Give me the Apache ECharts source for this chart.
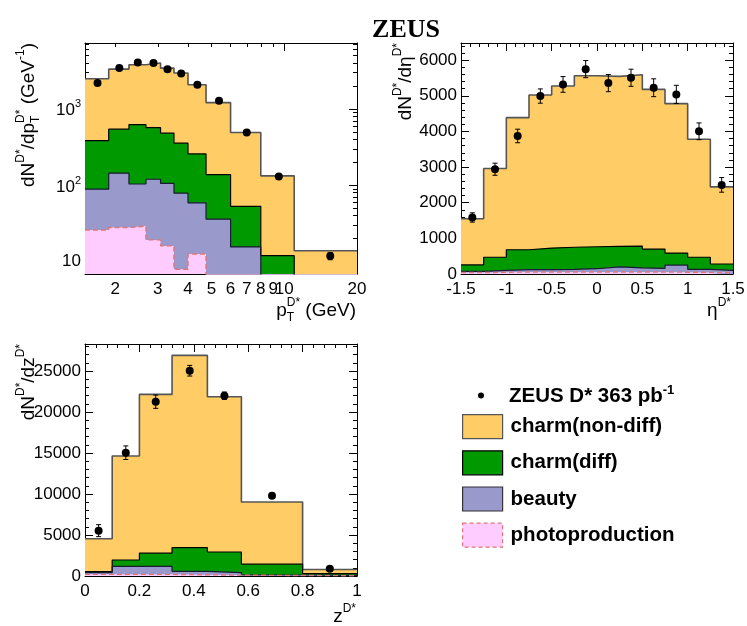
<!DOCTYPE html>
<html><head><meta charset="utf-8">
<script src="https://cdn.jsdelivr.net/npm/echarts@6/dist/echarts.min.js"></script>
<style>html,body{margin:0;padding:0;background:#fff}#c{width:747px;height:626px}</style>
</head><body><div id="c"></div>
<script>
// ---------------- DATA ----------------
// pT panel (bin edges, data points, stacked MC tops)
const ptEdges   = [1.5, 1.88, 2.28, 2.68, 3.08, 3.5, 4, 4.75, 6, 8, 11, 20];
const ptCentres = [1.69, 2.08, 2.48, 2.88, 3.29, 3.75, 4.375, 5.375, 7, 9.5, 15.5];
const ptData    = [2180, 3430, 4060, 3980, 3320, 2910, 2070, 1280, 490, 130, 11.9];
const ptErr     = [150, 170, 190, 180, 160, 140, 100, 60, 25, 8, 1.3];
const ptNonDiff = [2480, 3320, 3790, 3990, 3420, 2950, 2070, 1210, 491, 133, 13.9];
const ptDiff    = [385, 543, 625, 570, 482, 356, 258, 138, 53, 12, 4];
const ptBeauty  = [89, 144, 104, 120, 106, 79, 59, 36, 15.6, 5, 1.5];
const ptPhp     = [26, 28, 29.3, 19.3, 16.1, 7.95, 12.6, 5, 2, 1, 0.3];

// eta panel
const etaEdges   = [-1.5, -1.25, -1, -0.75, -0.5, -0.25, 0, 0.25, 0.5, 0.75, 1, 1.25, 1.5];
const etaCentres = [-1.375, -1.125, -0.875, -0.625, -0.375, -0.125, 0.125, 0.375, 0.625, 0.875, 1.125, 1.375];
const etaData    = [1586, 2939, 3872, 4992, 5318, 5747, 5355, 5505, 5225, 5038, 4003, 2500];
const etaErr     = [130, 170, 190, 200, 220, 240, 240, 240, 250, 255, 235, 205];
const etaNonDiff = [1549, 2958, 4386, 5020, 5272, 5561, 5543, 5589, 5179, 4778, 3780, 2445];
const etaDiff    = [255, 470, 680, 728, 750, 765, 775, 784, 700, 588, 470, 280];
const etaBeauty  = [73, 100, 120, 125, 130, 148, 200, 170, 160, 250, 130, 100];
const etaPhp     = [40, 50, 55, 55, 55, 55, 55, 55, 55, 50, 45, 40];

// z panel
const zEdges   = [0, 0.1, 0.2, 0.32, 0.45, 0.575, 0.8, 1.0];
const zCentres = [0.05, 0.15, 0.26, 0.385, 0.5125, 0.6875, 0.9];
const zData    = [5530, 15040, 21260, 25040, 21990, 9800, 890];
const zErr     = [730, 830, 810, 650, 450, 200, 150];
const zNonDiff = [4553, 14634, 22154, 26910, 21870, 9024, 800];
const zDiff    = [550, 1950, 2780, 3450, 2925, 1440, 300];
const zBeauty  = [400, 1180, 1180, 570, 400, 120, 80];
const zPhp     = [200, 200, 200, 150, 100, 60, 30];

// tick labels
const ptXLabels  = [2, 3, 4, 5, 6, 7, 8, 9, 10, 20];
const ptYLabels  = [10, 100, 1000];
const etaXLabels = [-1.5, -1, -0.5, 0, 0.5, 1, 1.5];
const etaYLabels = [0, 1000, 2000, 3000, 4000, 5000, 6000];
const zXLabels   = [0, 0.2, 0.4, 0.6, 0.8, 1];
const zYLabels   = [0, 5000, 10000, 15000, 20000, 25000];

const DATA_NAME = 'ZEUS D* 363 pb-1';
const NAMES = ['charm(non-diff)', 'charm(diff)', 'beauty', 'photoproduction'];
// ---------------------------------------

const FONT = '"Liberation Sans", Arial, Helvetica, sans-serif';
const COL = {
  nondiff: {fill: '#ffcc66', line: '#555555', w: 1.6},
  diff:    {fill: '#009900', line: '#000000', w: 1.2},
  beauty:  {fill: '#9999cc', line: '#1a1a33', w: 1.2},
  php:     {fill: '#ffccff', line: '#dd7777', w: 1.4}
};

function range(a, b, s) { const r = []; for (let v = a; v <= b + 1e-9; v += s) r.push(+v.toFixed(6)); return r; }
function logMinor(lo, hi) {
  const r = [];
  for (let d = 1; d <= 10000; d *= 10) for (let m = 2; m <= 9; m++) { const v = m * d; if (v >= lo && v <= hi) r.push(v); }
  return r;
}

function axisSet(dim, gi, base, majorTicks, minorTicks, labelVals, fmt, rich, majorLen) {
  const pos = dim === 'x' ? ['bottom', 'top'] : ['left', 'right'];
  const out = [];
  pos.forEach((p, k) => {
    const common = Object.assign({
      gridIndex: gi, position: p, offset: 0,
      splitLine: {show: false}, minorSplitLine: {show: false}, minorTick: {show: false},
      axisPointer: {show: false}, silent: true
    }, base);
    out.push(Object.assign({}, common, {
      axisLine: {show: true, onZero: false, lineStyle: {color: '#000', width: 1}},
      axisTick: {show: true, inside: true, length: majorLen || 8, customValues: majorTicks, lineStyle: {color: '#000', width: 1}},
      axisLabel: k === 0 ? {
        show: true, customValues: labelVals, formatter: fmt, color: '#000', fontSize: 17,
        fontFamily: FONT, margin: dim === 'x' ? 7 : 4, hideOverlap: false, rich: rich
      } : {show: false}
    }));
    out.push(Object.assign({}, common, {
      axisLine: {show: false, onZero: false},
      axisTick: {show: true, inside: true, length: 4, customValues: minorTicks, lineStyle: {color: '#000', width: 1}},
      axisLabel: {show: false}
    }));
  });
  return out;
}

const numFmt = v => String(parseFloat((+v).toFixed(3)));
const richSup = {
  b: {fontSize: 17, fontFamily: FONT, color: '#000', verticalAlign: 'bottom'},
  sup: {fontSize: 11, fontFamily: FONT, color: '#000', verticalAlign: 'bottom', padding: [0, 0, 9, 0]}
};
const logFmt = v => { const e = Math.round(Math.log10(v)); return e === 1 ? '{b|10}' : '{b|10}{sup|' + e + '}'; };

const xAxes = [], yAxes = [];
// panel 0: pT (log-log)
xAxes.push(...axisSet('x', 0, {type: 'log', logBase: 10, min: 1.5, max: 20},
  [10], [2, 3, 4, 5, 6, 7, 8, 9, 20], ptXLabels, v => String(Math.round(v)), null, 8));
yAxes.push(...axisSet('y', 0, {type: 'log', logBase: 10, min: 6.9, max: 7300},
  ptYLabels, logMinor(6.9, 7300), ptYLabels, logFmt, richSup, 8));
// panel 1: eta
xAxes.push(...axisSet('x', 1, {type: 'value', min: -1.5, max: 1.5},
  etaXLabels, range(-1.5, 1.5, 0.1), etaXLabels, numFmt, null, 8));
yAxes.push(...axisSet('y', 1, {type: 'value', min: 0, max: 6480},
  etaYLabels, range(0, 6400, 200), etaYLabels, numFmt, null, 8));
// panel 2: z
xAxes.push(...axisSet('x', 2, {type: 'value', min: 0, max: 1},
  zXLabels, range(0, 1, 0.04), zXLabels, numFmt, null, 8));
yAxes.push(...axisSet('y', 2, {type: 'value', min: 0, max: 28300},
  zYLabels, range(0, 28000, 1000), zYLabels, numFmt, null, 8));

function histData(edges, vals) {
  const d = vals.map((v, i) => [edges[i], v]);
  d.push([edges[edges.length - 1], vals[vals.length - 1]]);
  return d;
}
function histSeries(name, p, edges, vals, c, dashed) {
  return {
    type: 'line', name: name, xAxisIndex: 4 * p, yAxisIndex: 4 * p,
    data: histData(edges, vals), step: 'end', symbol: 'none', showSymbol: false, clip: true,
    lineStyle: {color: c.line, width: c.w, type: dashed ? [5, 3] : 'solid'},
    areaStyle: {color: c.fill, opacity: 1, origin: 'start'},
    itemStyle: {color: c.fill}, emphasis: {disabled: true}, z: 2, animation: false
  };
}
function errRender(params, api) {
  const x = api.value(0), y = api.value(1), e = api.value(2);
  const t = api.coord([x, y + e]), b = api.coord([x, y - e]);
  const cap = 2.5, st = {stroke: '#000', lineWidth: 1};
  return {type: 'group', children: [
    {type: 'line', shape: {x1: t[0], y1: t[1], x2: b[0], y2: b[1]}, style: st},
    {type: 'line', shape: {x1: t[0] - cap, y1: t[1], x2: t[0] + cap, y2: t[1]}, style: st},
    {type: 'line', shape: {x1: b[0] - cap, y1: b[1], x2: b[0] + cap, y2: b[1]}, style: st}
  ]};
}
function dataSeries(p, xs, ys, es) {
  return [
    {type: 'custom', name: 'err' + p, xAxisIndex: 4 * p, yAxisIndex: 4 * p, renderItem: errRender,
     encode: {x: 0, y: 1}, data: xs.map((x, i) => [x, ys[i], es[i]]), z: 5, silent: true, animation: false},
    {type: 'scatter', name: DATA_NAME, xAxisIndex: 4 * p, yAxisIndex: 4 * p, symbol: 'circle', symbolSize: 8,
     itemStyle: {color: '#000', opacity: 1, borderWidth: 0}, data: xs.map((x, i) => [x, ys[i]]), z: 6, silent: true, animation: false}
  ];
}

const series = [];
[[ptEdges, ptNonDiff, ptDiff, ptBeauty, ptPhp, ptCentres, ptData, ptErr],
 [etaEdges, etaNonDiff, etaDiff, etaBeauty, etaPhp, etaCentres, etaData, etaErr],
 [zEdges, zNonDiff, zDiff, zBeauty, zPhp, zCentres, zData, zErr]].forEach((P, p) => {
  series.push(histSeries(NAMES[0], p, P[0], P[1], COL.nondiff));
  series.push(histSeries(NAMES[1], p, P[0], P[2], COL.diff));
  series.push(histSeries(NAMES[2], p, P[0], P[3], COL.beauty));
  series.push(histSeries(NAMES[3], p, P[0], P[4], COL.php, true));
  series.push(...dataSeries(p, P[5], P[6], P[7]));
});

// ---- math-like axis titles built from text pieces ----
const mctx = document.createElement('canvas').getContext('2d');
function fnt(size) { return size + 'px ' + FONT; }
function mathGroup(segs, base, ax, ay, rotate) {
  const sub = Math.round(base * 0.63);
  let x = 0, lastStart = 0;
  const kids = [];
  segs.forEach(s => {
    const k = s[1], size = k === 'n' ? base : sub;
    mctx.font = fnt(size);
    const w = mctx.measureText(s[0]).width;
    const sx = s[2] ? lastStart : x;
    const dy = k === 'sup' ? -base * 0.43 : (k === 'sub' ? base * 0.33 : 0);
    kids.push({x: sx, y: dy, text: s[0], size: size});
    if (!s[2]) lastStart = sx;
    x = Math.max(x, sx + w);
  });
  const W = x;
  return {
    type: 'group', x: ax, y: ay, rotation: rotate ? Math.PI / 2 : 0, silent: true,
    children: kids.map(c => ({
      type: 'text', x: c.x - W, y: c.y,
      style: {text: c.text, font: fnt(c.size), fill: '#000', textAlign: 'left', align: 'left',
              textVerticalAlign: 'middle', verticalAlign: 'middle'}
    }))
  };
}
const graphics = [
  mathGroup([['dN', 'n'], ['D*', 'sup'], ['/dp', 'n'], ['D*', 'sup'], ['T', 'sub', true], [' (GeV', 'n'], ['-1', 'sup'], [')', 'n']], 19, 29, 43, true),
  mathGroup([['dN', 'n'], ['D*', 'sup'], ['/dη', 'n'], ['D*', 'sup']], 19, 406, 43, true),
  mathGroup([['dN', 'n'], ['D*', 'sup'], ['/dz', 'n'], ['D*', 'sup']], 19, 29, 344, true),
  mathGroup([['p', 'n'], ['D*', 'sup'], ['T', 'sub', true], [' (GeV)', 'n']], 19, 356, 311, false),
  mathGroup([['η', 'n'], ['D*', 'sup']], 19, 731, 311, false),
  mathGroup([['z', 'n'], ['D*', 'sup']], 19, 356, 617, false)
];

const chart = echarts.init(document.getElementById('c'), null, {renderer: 'canvas'});
chart.setOption({
  animation: false,
  backgroundColor: '#ffffff',
  title: {text: 'ZEUS', left: 401, top: 12, textAlign: 'center',
          textStyle: {fontFamily: '"Liberation Serif", "Times New Roman", serif', fontWeight: 'bold', fontSize: 26, color: '#000'}},
  grid: [
    {left: 85, top: 43, width: 272, height: 231, containLabel: false, outerBoundsMode: 'none'},
    {left: 461, top: 43, width: 272, height: 231, containLabel: false, outerBoundsMode: 'none'},
    {left: 85, top: 344, width: 272, height: 232, containLabel: false, outerBoundsMode: 'none'}
  ],
  xAxis: xAxes,
  yAxis: yAxes,
  legend: [
    {data: [{name: DATA_NAME, icon: 'circle', itemStyle: {color: '#000', borderWidth: 0, opacity: 1}}],
     orient: 'vertical', left: 478, top: 384, padding: 0, itemWidth: 6, itemHeight: 6, selectedMode: false,
     formatter: () => '{b|ZEUS D* 363 pb}{sup|-1}',
     textStyle: {padding: [0, 0, 0, 20], rich: {
       b: {fontSize: 20.5, fontWeight: 'bold', fontFamily: FONT, color: '#000', verticalAlign: 'bottom'},
       sup: {fontSize: 13, fontWeight: 'bold', fontFamily: FONT, color: '#000', verticalAlign: 'bottom', padding: [0, 0, 10, 0]}}}},
    {data: [
       {name: NAMES[0], icon: 'rect', itemStyle: {color: COL.nondiff.fill, borderColor: '#555555', borderWidth: 1.2}},
       {name: NAMES[1], icon: 'rect', itemStyle: {color: COL.diff.fill, borderColor: '#000', borderWidth: 1.2}},
       {name: NAMES[2], icon: 'rect', itemStyle: {color: COL.beauty.fill, borderColor: '#333', borderWidth: 1.2}},
       {name: NAMES[3], icon: 'rect', itemStyle: {color: COL.php.fill, borderColor: COL.php.line, borderWidth: 1.2, borderType: [4, 3]}}],
     orient: 'vertical', left: 462, top: 414, padding: 0, itemWidth: 40, itemHeight: 24, itemGap: 11, selectedMode: false,
     textStyle: {fontSize: 20.5, fontWeight: 'bold', fontFamily: FONT, color: '#000', padding: [0, 0, 0, 3]}}
  ],
  graphic: {elements: graphics},
  series: series
});
</script></body></html>
